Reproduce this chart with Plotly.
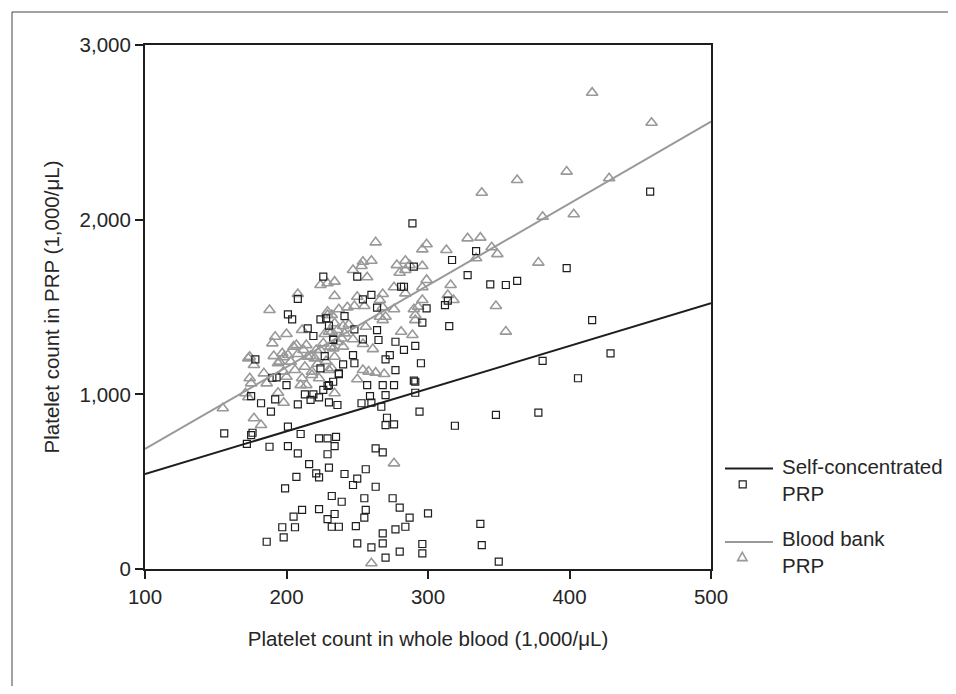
import numpy as np
import plotly.graph_objects as go

# ---------------- data ----------------
self_x = [457, 334, 317, 328, 398, 344, 355, 363, 314, 312, 315, 416, 429, 381, 406, 348, 378, 319, 337, 338, 350,
          257, 268, 276, 291, 291, 259, 270, 253, 260, 267, 294, 271, 270, 276, 235, 234, 263, 268, 256, 241, 250,
          247, 263, 232, 239, 255, 275, 280, 234, 256, 255, 287, 300, 232, 237, 249, 277, 284, 268, 250, 260, 268,
          280, 296, 296, 270,
          190, 193, 200, 213, 219, 217, 223, 226, 230, 233, 230, 236, 175, 192, 182, 189, 208, 201, 210, 176, 175,
          172, 188, 201, 223, 229, 208, 229, 216, 230, 221, 223, 207, 199, 211, 205, 223, 197, 206, 229, 198, 186, 156,
          289, 250, 290, 281, 283, 254, 260, 264, 299, 241, 296, 248, 264, 254, 265, 277, 291, 283, 233, 273, 247,
          270, 248, 240, 277, 295, 237, 290,
          226, 208, 201, 204, 224, 228, 230, 215, 219, 233, 178, 227, 224, 237, 229]
self_y = [2160, 1820, 1769, 1683, 1723, 1630, 1626, 1649, 1536, 1511, 1391, 1425, 1235, 1191, 1092, 882, 895, 820, 258, 137, 42,
          1053, 1053, 1053, 1072, 1009, 990, 996, 949, 952, 929, 901, 866, 824, 828, 757, 704, 691, 668, 571, 544, 517,
          481, 471, 418, 385, 405, 405, 351, 315, 338, 294, 294, 319, 242, 242, 246, 227, 242, 204, 147, 124, 147,
          99, 143, 90, 65,
          1095, 1097, 1053, 1000, 1000, 968, 983, 1025, 1053, 1072, 954, 939, 990, 971, 949, 901, 943, 815, 773, 780, 767,
          716, 700, 704, 748, 748, 662, 657, 601, 580, 548, 525, 528, 462, 338, 300, 343, 239, 239, 285, 181, 156, 777,
          1979, 1674, 1731, 1616, 1616, 1544, 1569, 1496, 1492, 1448, 1410, 1372, 1368, 1315, 1311, 1301, 1278, 1254, 1311, 1225, 1225,
          1200, 1178, 1172, 1139, 1178, 1116, 1078,
          1674, 1546, 1458, 1429, 1429, 1435, 1393, 1378, 1334, 1315, 1200, 1219, 1149, 1120, 1048]

bank_x = [416, 458, 398, 428, 363, 338, 381, 403, 328, 337, 313, 345, 349, 334, 378, 316, 314, 318, 348, 355,
          263, 299, 296, 254, 260, 253, 247, 257, 278, 284, 284, 280, 287, 296, 234, 299, 296, 234, 268, 266, 276,
          284, 250, 255, 248, 243, 237, 268, 276, 296, 293, 290, 291, 291, 266, 270, 232, 240, 256, 236, 232, 241,
          281, 289, 247, 254, 261, 231, 240, 234, 254, 258, 263, 269, 250, 232, 234, 276, 260,
          224, 229, 208, 188, 229, 234, 211, 200, 192, 190, 230, 174, 177, 191, 198, 205, 208, 214, 217, 221, 226,
          233, 184, 200, 174, 206, 213, 218, 230, 194,
          229, 207, 212, 197, 201, 203, 195, 215, 220, 224, 173, 186, 198, 211, 218, 214, 210, 223, 177, 182, 175,
          173, 194, 198, 155, 171,
          236, 244, 227, 239, 222, 228, 268]
bank_y = [2727, 2555, 2275, 2237, 2227, 2154, 2017, 2031, 1893, 1897, 1826, 1842, 1803, 1779, 1754, 1626, 1569, 1540, 1506, 1359,
          1870, 1859, 1830, 1759, 1765, 1735, 1712, 1670, 1740, 1765, 1712, 1696, 1740, 1735, 1645, 1655, 1613, 1563, 1574, 1540, 1613,
          1578, 1559, 1506, 1506, 1498, 1487, 1498, 1487, 1540, 1502, 1487, 1454, 1425, 1444, 1444, 1454, 1391, 1387, 1368, 1358, 1349,
          1358, 1340, 1315, 1288, 1259, 1273, 1273, 1215, 1139, 1130, 1124, 1116, 1086, 1149, 1006, 605, 33,
          1626, 1636, 1574, 1483, 1473, 1407, 1368, 1345, 1330, 1292, 1358, 1215, 1168, 1219, 1212, 1273, 1231, 1282, 1219, 1254, 1292,
          1263, 1120, 1101, 1092, 1139, 1158, 1130, 1139, 1178,
          1454, 1282, 1254, 1235, 1225, 1187, 1187, 1215, 1206, 1254, 1206, 1063, 1130, 1092, 1111, 1053, 1053, 1092, 863, 824, 1063,
          983, 1009, 952, 920, 1006,
          1300, 1400, 1345, 1320, 1175, 1190, 1425]

fit_x = [100, 500]
self_fit = {"intercept": 299.75, "slope": 2.4425}
bank_fit = {"intercept": 218.5, "slope": 4.685}

x_ticks = [100, 200, 300, 400, 500]
y_ticks = [0, 1000, 2000, 3000]
legend_labels = ["Self-concentrated<br>PRP", "Blood bank<br>PRP"]

# ---------------- styling ----------------
OFF = 8                      # page body margin
W, H = 940, 678
L, R, T, B = 145 - OFF, 711 - OFF, 45 - OFF, 569 - OFF
FONT = "Liberation Sans, Arial, sans-serif"
FS = 20.5
TXT = "#262626"
DARK = "#1e1e1e"
GRAY = "#999999"

def px(xp):   # page pixel -> paper
    return (xp - OFF - L) / (R - L)

def py(yp):
    return (B - (yp - OFF)) / (B - T)

fx = np.array(fit_x, dtype=float)

fig = go.Figure()
fig.add_trace(go.Scatter(x=bank_x, y=bank_y, mode="markers",
                         marker=dict(symbol="triangle-up-open", size=10, color=GRAY,
                                     line=dict(width=1.6, color=GRAY)),
                         showlegend=False, hoverinfo="x+y"))
fig.add_trace(go.Scatter(x=self_x, y=self_y, mode="markers",
                         marker=dict(symbol="square-open", size=7, color=DARK,
                                     line=dict(width=1.2, color=DARK)),
                         showlegend=False, hoverinfo="x+y"))
fig.add_trace(go.Scatter(x=fx, y=bank_fit["intercept"] + bank_fit["slope"] * fx, mode="lines",
                         line=dict(color=GRAY, width=2), showlegend=False, hoverinfo="skip"))
fig.add_trace(go.Scatter(x=fx, y=self_fit["intercept"] + self_fit["slope"] * fx, mode="lines",
                         line=dict(color=DARK, width=2), showlegend=False, hoverinfo="skip"))

shapes = []
# outer frame (top and left edges visible)
shapes.append(dict(type="line", xref="paper", yref="paper", x0=px(12), x1=px(980), y0=py(12), y1=py(12),
                   line=dict(color="#444", width=1)))
shapes.append(dict(type="line", xref="paper", yref="paper", x0=px(12), x1=px(12), y0=py(12), y1=py(720),
                   line=dict(color="#444", width=1)))
# manual legend
shapes.append(dict(type="line", xref="paper", yref="paper", x0=px(725), x1=px(773), y0=py(468.5), y1=py(468.5),
                   line=dict(color=DARK, width=2)))
shapes.append(dict(type="rect", xref="paper", yref="paper", x0=px(739.2), x1=px(746.2), y0=py(480.8), y1=py(487.8),
                   line=dict(color=DARK, width=1.2)))
shapes.append(dict(type="line", xref="paper", yref="paper", x0=px(725), x1=px(773), y0=py(542), y1=py(542),
                   line=dict(color=GRAY, width=2)))
shapes.append(dict(type="path", xref="paper", yref="paper",
                   path="M {:.5f},{:.5f} L {:.5f},{:.5f} L {:.5f},{:.5f} Z".format(
                       px(742.3), py(552.3), px(737.6), py(560.6), px(747.0), py(560.6)),
                   line=dict(color=GRAY, width=1.6)))

annotations = [
    dict(text=legend_labels[0], xref="paper", yref="paper", x=px(780), y=py(479.5), xanchor="left",
         yanchor="middle", align="left", showarrow=False, font=dict(size=FS, color=TXT, family=FONT)),
    dict(text=legend_labels[1], xref="paper", yref="paper", x=px(780), y=py(552.4), xanchor="left",
         yanchor="middle", align="left", showarrow=False, font=dict(size=FS, color=TXT, family=FONT)),
]

fig.update_layout(
    width=W, height=H,
    margin=dict(l=L, r=W - R, t=T, b=H - B, pad=0),
    paper_bgcolor="white", plot_bgcolor="white",
    font=dict(family=FONT, size=FS, color=TXT),
    shapes=shapes, annotations=annotations,
    showlegend=False,
    separators=".,",
)
fig.update_xaxes(range=[100, 500], tickvals=x_ticks, tickformat=",d", ticks="outside", ticklen=8,
                 tickwidth=1.5, tickcolor=DARK, showline=True, linecolor=DARK, linewidth=2, mirror=True,
                 showgrid=False, zeroline=False, tickfont=dict(size=FS, color=TXT),
                 title=dict(text="Platelet count in whole blood (1,000/μL)", font=dict(size=FS, color=TXT),
                            standoff=25))
fig.update_yaxes(range=[0, 3000], tickvals=y_ticks, tickformat=",d", ticks="outside", ticklen=8,
                 tickwidth=1.5, tickcolor=DARK, showline=True, linecolor=DARK, linewidth=2, mirror=True,
                 showgrid=False, zeroline=False, tickfont=dict(size=FS, color=TXT),
                 title=dict(text="Platelet count in PRP (1,000/μL)", font=dict(size=FS, color=TXT),
                            standoff=14))

fig.write_html("out.html")
